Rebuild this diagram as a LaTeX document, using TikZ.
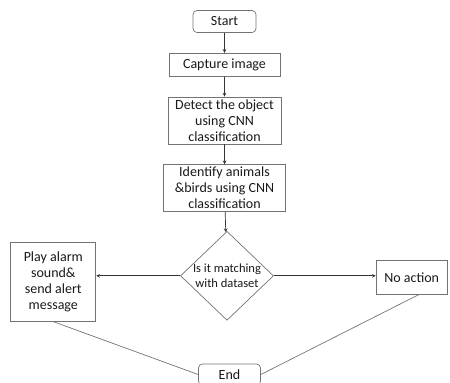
\documentclass[tikz,border=0pt]{standalone}
\usepackage{fontspec}
\setmainfont{Carlito}
\usetikzlibrary{arrows,positioning,shapes.geometric}

\begin{document}
\begin{tikzpicture}[>=stealth, node distance=20pt, x=1pt, y=1pt]
	\tikzstyle{block} = [draw=black!55, line width=0.7pt, text=black!90, align=center, inner sep=1pt, font=\fontsize{14}{16}\selectfont]
	\tikzstyle{term} = [block, rounded corners=4pt, minimum width=63pt, minimum height=22pt]
	\tikzstyle{check} = [block, diamond, aspect=1.05, inner sep=-3pt, minimum width=93pt, minimum height=89pt, font=\fontsize{12.5}{15}\selectfont]
	\useasboundingbox (0,0) rectangle (450,-383);
	\path[->, line width=0.7pt, black!80]
	node[term] at (224.5,-21.5) (start) {Start}
	node[block, below=of start, minimum width=111pt, minimum height=23pt] (capture) {Capture image}
	node[block, below=of capture, minimum width=113pt, minimum height=47pt] (detect) {Detect the object\\using CNN\\classification}
	node[block, below=of detect, minimum width=122pt, minimum height=47pt] (identify) {Identify animals\\\&birds using CNN\\classification}
	node[check, below=19pt of identify, xshift=2.5pt] (match) {Is it matching\\with dataset}
	node[block, left=84pt of match, yshift=-6pt, minimum width=85pt, minimum height=79pt] (alarm) {Play alarm\\sound\&\\send alert\\message}
	node[block, right=102pt of match, yshift=-1.5pt, minimum width=71pt, minimum height=34pt] (noaction) {No action}
	node[term, below=43pt of match, xshift=2.5pt, minimum width=62pt, minimum height=21pt] (end) {End}
	(start) edge (capture)
	(capture) edge (detect)
	(detect) edge (identify)
	(identify) edge (match)
	(match) edge (alarm.east |- match)
	(match) edge (noaction.west |- match)
	(alarm.south) edge[-, black!55] (end.west)
	([xshift=7pt]noaction.south) edge[-, black!55] (end.east)
	;
\end{tikzpicture}
\end{document}
